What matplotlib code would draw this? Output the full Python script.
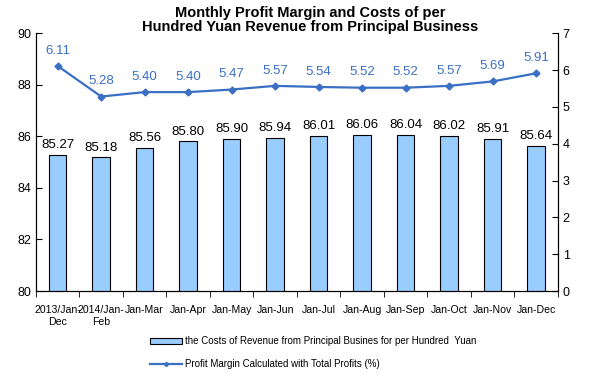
import matplotlib
matplotlib.use("Agg")
import matplotlib.pyplot as plt
from matplotlib.ticker import MultipleLocator, FixedLocator

plt.rcParams['font.family'] = ['Liberation Sans', 'DejaVu Sans']

periods = ['2013/Jan-\nDec', '2014/Jan-\nFeb', 'Jan-Mar', 'Jan-Apr', 'Jan-May', 'Jan-Jun',
           'Jan-Jul', 'Jan-Aug', 'Jan-Sep', 'Jan-Oct', 'Jan-Nov', 'Jan-Dec']
costs = [85.27, 85.18, 85.56, 85.80, 85.90, 85.94, 86.01, 86.06, 86.04, 86.02, 85.91, 85.64]
margin = [6.11, 5.28, 5.40, 5.40, 5.47, 5.57, 5.54, 5.52, 5.52, 5.57, 5.69, 5.91]

bar_color = '#99CCFF'
line_color = '#3A6FC4'

fig = plt.figure(figsize=(5.89, 3.77), dpi=100)
ax = fig.add_axes([0.061, 0.228, 0.886, 0.684])
ax2 = ax.twinx()

x = range(len(periods))
bars = ax.bar(x, costs, width=0.4, color=bar_color, edgecolor='black', linewidth=0.8,
              label='the Costs of Revenue from Principal Busines for per Hundred  Yuan')
for i, v in enumerate(costs):
    ax.text(i, v + 0.15, f'{v:.2f}', ha='center', va='bottom', fontsize=9.5, color='black')

ax.set_ylim(80, 90)
ax.set_xlim(-0.5, len(periods) - 0.5)
ax.yaxis.set_major_locator(MultipleLocator(2))
ax.set_xticks(list(x))
ax.set_xticklabels(periods, fontsize=7.6)
ax.tick_params(axis='x', length=0, pad=10)
ax.xaxis.set_minor_locator(FixedLocator([i - 0.5 for i in range(len(periods) + 1)]))
ax.tick_params(axis='x', which='minor', length=4, direction='out')
ax.tick_params(axis='y', labelsize=9, length=4, direction='in')

line, = ax2.plot(x, margin, color=line_color, marker='D', markersize=3.5, linewidth=1.6,
                 label='Profit Margin Calculated with Total Profits (%)')
for i, v in enumerate(margin):
    ax2.text(i, v + 0.25, f'{v:.2f}', ha='center', va='bottom', fontsize=9.5, color=line_color)
ax2.set_ylim(0, 7)
ax2.yaxis.set_major_locator(MultipleLocator(1))
ax2.tick_params(axis='y', labelsize=9, length=4, direction='in')

for a in (ax, ax2):
    a.spines['top'].set_visible(False)
    for s in ('left', 'right', 'bottom'):
        a.spines[s].set_linewidth(0.8)

fig.text(0.527, 0.985, 'Monthly Profit Margin and Costs of per\nHundred Yuan Revenue from Principal Business',
         ha='center', va='top', fontsize=10.5, fontweight='bold', linespacing=1.05)

fig.legend(handles=[bars, line], loc='upper left', bbox_to_anchor=(0.248, 0.118),
           ncol=1, frameon=False, fontsize=7, handlelength=3.3, labelspacing=1.3,
           borderaxespad=0, handletextpad=0.3, markerscale=0.6)

fig.savefig('out.png', dpi=100)
